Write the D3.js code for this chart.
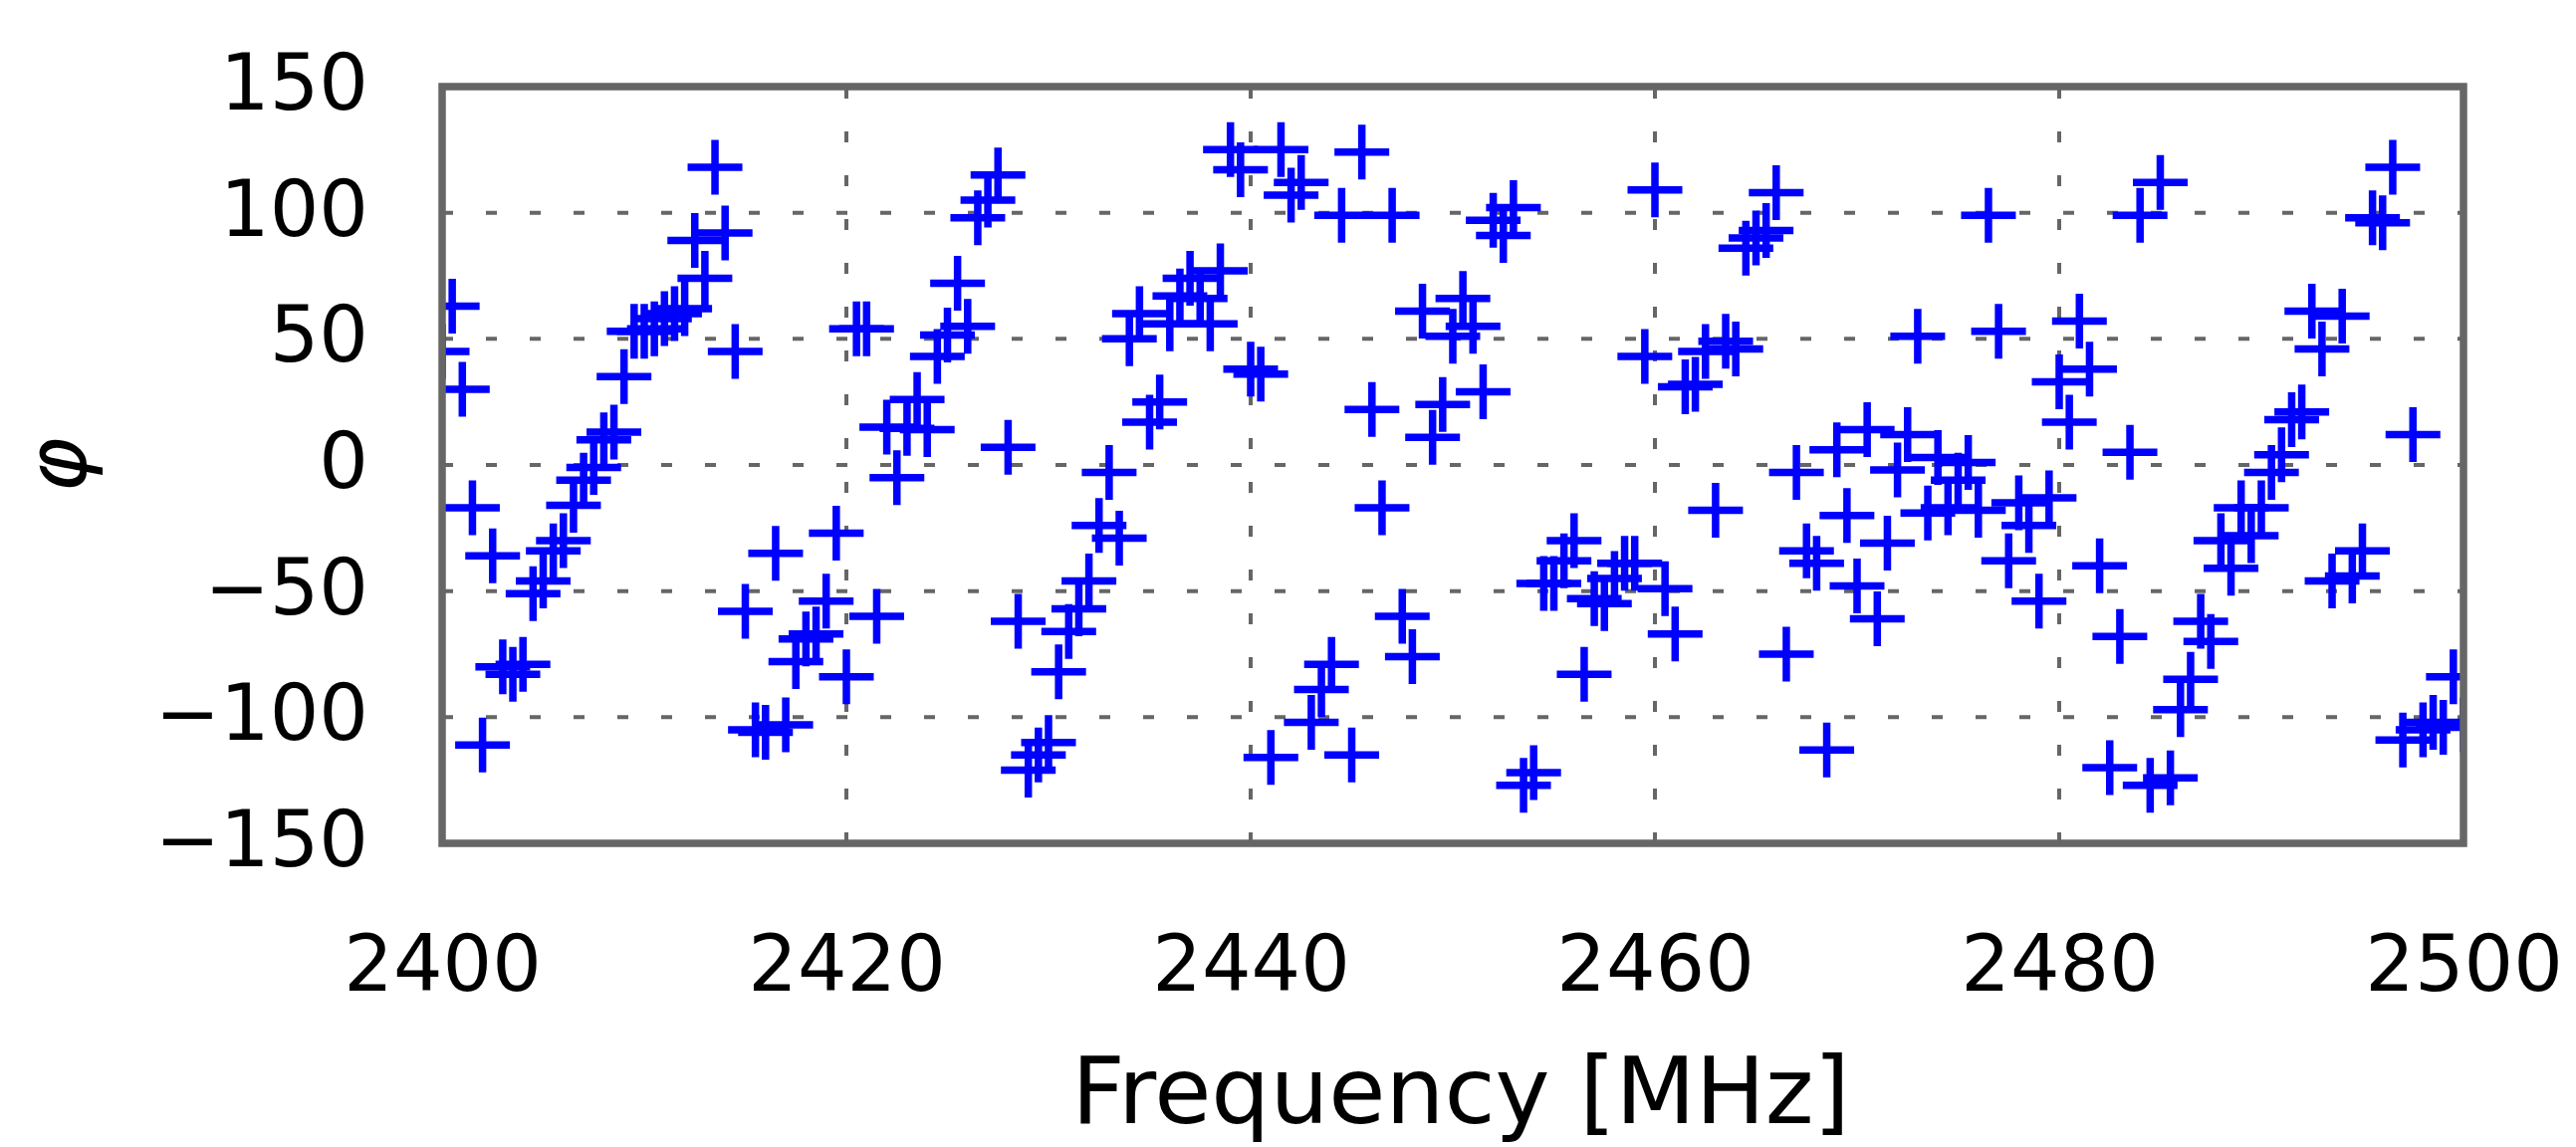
<!DOCTYPE html>
<html>
<head>
<meta charset="utf-8">
<script src="https://cdn.jsdelivr.net/npm/d3@7"></script>
<style>
  body { margin: 0; background: #fff; }
  svg { display: block; font-family: "DejaVu Sans", sans-serif; }
</style>
</head>
<body>
<div id="container"></div>
<script>
var width = 2587, height = 1152;

// frequency of every sample [MHz]
var freqs = [
  2400, 2400.5, 2401, 2401.5, 2402, 2402.5, 2403, 2403.5, 2404, 2404.5, 2405, 2405.5, 2406, 2406.5, 2407, 2407.5, 2408, 2408.5, 2409, 2409.5,
  2410, 2410.5, 2411, 2411.5, 2412, 2412.5, 2413, 2413.5, 2414, 2414.5, 2415, 2415.5, 2416, 2416.5, 2417, 2417.5, 2418, 2418.5, 2419, 2419.5,
  2420, 2420.5, 2421, 2421.5, 2422, 2422.5, 2423, 2423.5, 2424, 2424.5, 2425, 2425.5, 2426, 2426.5, 2427, 2427.5, 2428, 2428.5, 2429, 2429.5,
  2430, 2430.5, 2431, 2431.5, 2432, 2432.5, 2433, 2433.5, 2434, 2434.5, 2435, 2435.5, 2436, 2436.5, 2437, 2437.5, 2438, 2438.5, 2439, 2439.5,
  2440, 2440.5, 2441, 2441.5, 2442, 2442.5, 2443, 2443.5, 2444, 2444.5, 2445, 2445.5, 2446, 2446.5, 2447, 2447.5, 2448, 2448.5, 2449, 2449.5,
  2450, 2450.5, 2451, 2451.5, 2452, 2452.5, 2453, 2453.5, 2454, 2454.5, 2455, 2455.5, 2456, 2456.5, 2457, 2457.5, 2458, 2458.5, 2459, 2459.5,
  2460, 2460.5, 2461, 2461.5, 2462, 2462.5, 2463, 2463.5, 2464, 2464.5, 2465, 2465.5, 2466, 2466.5, 2467, 2467.5, 2468, 2468.5, 2469, 2469.5,
  2470, 2470.5, 2471, 2471.5, 2472, 2472.5, 2473, 2473.5, 2474, 2474.5, 2475, 2475.5, 2476, 2476.5, 2477, 2477.5, 2478, 2478.5, 2479, 2479.5,
  2480, 2480.5, 2481, 2481.5, 2482, 2482.5, 2483, 2483.5, 2484, 2484.5, 2485, 2485.5, 2486, 2486.5, 2487, 2487.5, 2488, 2488.5, 2489, 2489.5,
  2490, 2490.5, 2491, 2491.5, 2492, 2492.5, 2493, 2493.5, 2494, 2494.5, 2495, 2495.5, 2496, 2496.5, 2497, 2497.5, 2498, 2498.5, 2499, 2499.5,
  2500
];

// measured phase
var phases = [
  45, 63, 30, -17, -111, -36, -80, -83, -79, -51, -46, -34, -30, -16, -6, -1, 10, 13, 35, 53,
  53, 54, 58, 60, 62, 89, 74, 118, 92, 45, -58, -105, -106, -35, -103, -78, -69, -67, -54, -27,
  -84, 54, 54, -60, 15, -5, 14.5, 26, 14, 43, 51.5, 72, 55, 98, 105, 115, 7, -62, -121, -115,
  -110, -82, -66, -57, -46, -24, -3, -29, 50, 60, 17, 25, 56, 67, 74, 66, 56, 77, 125, 117,
  38, 36, -116, 125, 107, 112, -102, -89, -79, 99, -115, 124, 22, -17, 99, -60, -76, 61, 11, 24,
  51, 66, 55, 29, 97, 91, 102, -127, -122, -47, -47, -38, -30, -83, -53, -55, -45, -39, -39, 43,
  109, -49, -67, 31, 32, 45, -18, 49, 46, 86, 90, 93, 108, -75, -3, -34, -39, -113, 6, -20,
  -48, 14, -61, -31, -2, 12, 51, -19, 3, -17, -6, 1, -18, 99, 53, -38, -15, -24, -54, -13,
  33, 17, 57, 38, -40, -120, -68, 5, 99, -127, 112, -124, -97, -85, -62, -70, -30, -41, -17, -28,
  -17, -3, 4, 18, 21, 61, 46, -46, 59, -44, -34, 98, 96, 118, -109, 12, -105, -102, -104, -84,
  -103
];

var xTicks = [2400, 2420, 2440, 2460, 2480, 2500];
var yTicks = [-150, -100, -50, 0, 50, 100, 150];

var plotLeft = 444, plotRight = 2474, plotTop = 87, plotBottom = 847;

var x = d3.scaleLinear().domain([2400, 2500]).range([plotLeft, plotRight]);
var y = d3.scaleLinear().domain([-150, 150]).range([plotBottom, plotTop]);

var svg = d3.select("#container")
    .append("svg")
    .attr("width", width)
    .attr("height", height);

svg.append("rect").attr("width", width).attr("height", height).attr("fill", "#fff");

svg.append("clipPath").attr("id", "plot-clip")
  .append("rect")
    .attr("x", plotLeft).attr("y", plotTop)
    .attr("width", plotRight - plotLeft).attr("height", plotBottom - plotTop);

// grille pointillee
var grid = svg.append("g")
    .attr("stroke", "#666")
    .attr("stroke-width", 4)
    .attr("stroke-dasharray", "11,33");

grid.selectAll(".vgrid")
  .data(xTicks.slice(1, -1))
  .enter().append("line")
    .attr("x1", d => x(d)).attr("x2", d => x(d))
    .attr("y1", plotBottom).attr("y2", plotTop);

grid.selectAll(".hgrid")
  .data(yTicks.slice(1, -1))
  .enter().append("line")
    .attr("x1", plotLeft).attr("x2", plotRight)
    .attr("y1", d => y(d)).attr("y2", d => y(d));

// les points (marqueurs +)
var arm = 27.5;
svg.append("g")
    .attr("clip-path", "url(#plot-clip)")
  .selectAll("path")
  .data(freqs.map((f, i) => [f, phases[i]]))
  .enter().append("path")
    .attr("transform", d => "translate(" + x(d[0]) + "," + y(d[1]) + ")")
    .attr("d", "M" + (-arm) + ",0H" + arm + "M0," + (-arm) + "V" + arm)
    .attr("stroke", "#0000ff")
    .attr("stroke-width", 7.5)
    .attr("fill", "none");

// axes
var xAxis = svg.append("g")
    .attr("transform", "translate(0," + plotBottom + ")")
    .call(d3.axisBottom(x).tickValues(xTicks).tickFormat(d3.format("d")).tickSize(0));
xAxis.select(".domain").remove();
xAxis.selectAll("text")
    .attr("y", 93)
    .attr("dy", "0.71em")
    .attr("font-size", 78)
    .attr("font-family", "DejaVu Sans")
    .attr("fill", "#000");

var yAxis = svg.append("g")
    .attr("transform", "translate(" + plotLeft + ",0)")
    .call(d3.axisLeft(y).tickValues(yTicks).tickSize(0));
yAxis.select(".domain").remove();
yAxis.selectAll("text")
    .attr("x", -74)
    .attr("dy", "0.29em")
    .attr("font-size", 78)
    .attr("font-family", "DejaVu Sans")
    .attr("fill", "#000");

// cadre
svg.append("rect")
    .attr("x", plotLeft).attr("y", plotTop)
    .attr("width", plotRight - plotLeft).attr("height", plotBottom - plotTop)
    .attr("fill", "none")
    .attr("stroke", "#666")
    .attr("stroke-width", 7.5);

// titres des axes
svg.append("text")
    .attr("x", (plotLeft + plotRight) / 2 + 8)
    .attr("y", 1128)
    .attr("text-anchor", "middle")
    .attr("font-size", 93)
    .text("Frequency [MHz]");

svg.append("text")
    .attr("transform", "translate(86," + (plotTop + plotBottom) / 2 + ") rotate(-90)")
    .attr("text-anchor", "middle")
    .attr("font-size", 84)
    .attr("font-style", "italic")
    .text("φ");
</script>
</body>
</html>
